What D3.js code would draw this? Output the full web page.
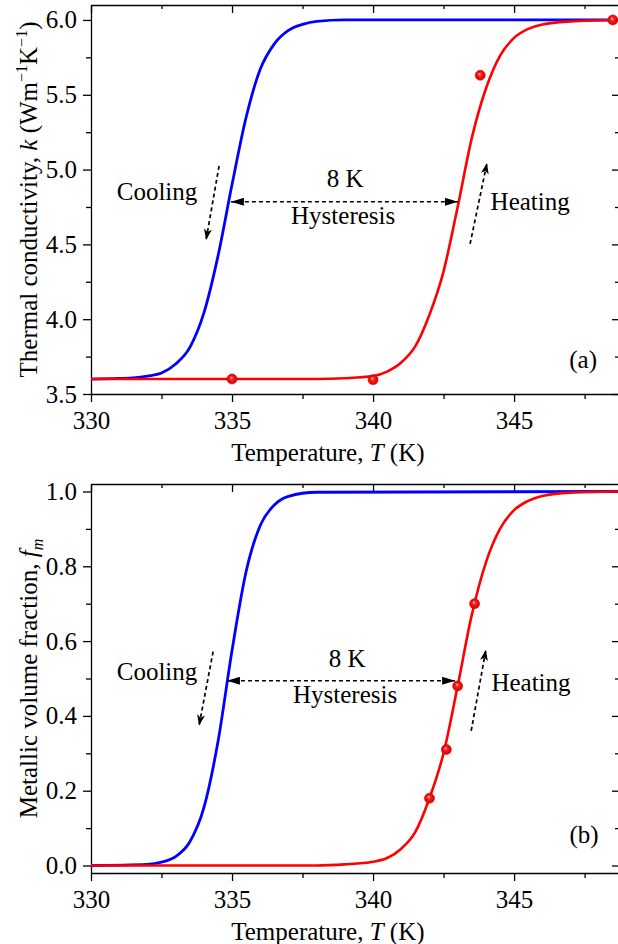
<!DOCTYPE html>
<html>
<head>
<meta charset="utf-8">
<script src="https://cdn.jsdelivr.net/npm/d3@7"></script>
<style>
  body { margin: 0; background: #fff; }
  svg { display: block; }
</style>
</head>
<body>
<svg id="chart" width="618" height="944"></svg>
<script>
const FONT = '"Liberation Serif", "Times New Roman", serif';

// temperature axis
const xMajor = [330, 335, 340, 345];
const xMinor = [332.5, 337.5, 342.5, 347.5];

// panel (a) thermal conductivity k
const kMajor = [3.5, 4.0, 4.5, 5.0, 5.5, 6.0];
const kMinor = [3.75, 4.25, 4.75, 5.25, 5.75];
const heatTa = [330, 338, 339, 340, 340.5, 341, 341.5, 342, 342.5, 343, 343.5, 344, 344.5, 345, 345.5, 346, 347, 348.72];
const heatK  = [3.60, 3.60, 3.605, 3.62, 3.65, 3.71, 3.82, 4.03, 4.32, 4.75, 5.21, 5.54, 5.76, 5.88, 5.94, 5.97, 5.99, 6.00];
const coolTa = [330, 331, 331.5, 332, 332.5, 333, 333.5, 334, 334.5, 335, 335.5, 336, 336.5, 337, 337.5, 338, 339, 348.72];
const coolK  = [3.60, 3.604, 3.608, 3.62, 3.64, 3.70, 3.81, 4.04, 4.42, 4.90, 5.35, 5.67, 5.84, 5.93, 5.97, 5.99, 6.00, 6.00];
const dotTa = [335, 340, 343.8, 348.5];
const dotK  = [3.60, 3.595, 5.63, 6.00];

// panel (b) metallic volume fraction f_m
const fMajor = [0, 0.2, 0.4, 0.6, 0.8, 1.0];
const fMinor = [0.1, 0.3, 0.5, 0.7, 0.9];
const heatTb = [330, 338, 339, 340, 340.5, 341, 341.5, 342, 342.5, 343, 343.5, 344, 344.5, 345, 345.5, 346, 347, 348.72];
const heatF  = [0, 0, 0.003, 0.01, 0.02, 0.045, 0.09, 0.18, 0.30, 0.48, 0.67, 0.81, 0.90, 0.95, 0.975, 0.988, 0.997, 1];
const coolTb = [330, 332, 332.5, 333, 333.5, 334, 334.5, 335, 335.5, 336, 336.5, 337, 338, 348.72];
const coolF  = [0, 0.003, 0.009, 0.024, 0.063, 0.154, 0.33, 0.575, 0.786, 0.909, 0.964, 0.987, 0.998, 1];
const dotTb = [342, 342.6, 343, 343.6];
const dotF  = [0.18, 0.31, 0.48, 0.70];

const svg = d3.select("#chart");
svg.append("rect").attr("width", 618).attr("height", 944).attr("fill", "#fff");

// markers + sphere gradient
const defs = svg.append("defs");
defs.append("marker")
  .attr("id", "tri").attr("markerUnits", "userSpaceOnUse")
  .attr("viewBox", "0 0 13 8").attr("refX", 13).attr("refY", 4)
  .attr("markerWidth", 13).attr("markerHeight", 8)
  .attr("orient", "auto-start-reverse")
  .append("path").attr("d", "M0,0 L13,4 L0,8 Z").attr("fill", "#000");
defs.append("marker")
  .attr("id", "head").attr("markerUnits", "userSpaceOnUse")
  .attr("viewBox", "0 0 11 8").attr("refX", 11).attr("refY", 4)
  .attr("markerWidth", 11).attr("markerHeight", 8)
  .attr("orient", "auto")
  .append("path").attr("d", "M0,0 L11,4 L0,8 L3,4 Z").attr("fill", "#000");
const grad = defs.append("radialGradient").attr("id", "ball")
  .attr("cx", "50%").attr("cy", "50%").attr("r", "50%")
  .attr("fx", "42%").attr("fy", "35%");
grad.append("stop").attr("offset", "0%").attr("stop-color", "#ffd0d0");
grad.append("stop").attr("offset", "35%").attr("stop-color", "#ff2020");
grad.append("stop").attr("offset", "100%").attr("stop-color", "#d00000");

const x = d3.scaleLinear().domain([330, 348.72]).range([91, 619]);

function drawPanel(p) {
  const y = d3.scaleLinear().domain(p.yDomain).range([p.bottom, p.top]);
  const g = svg.append("g");

  const styleAxis = sel => {
    sel.attr("font-family", FONT).attr("font-size", 25);
    sel.selectAll("path, line").attr("stroke", "#000").attr("stroke-width", 1.3);
    sel.selectAll("text").attr("fill", "#000");
  };

  // bottom axis, outward ticks
  g.append("g").attr("transform", `translate(0,${p.bottom})`)
    .call(d3.axisBottom(x).tickValues(xMajor).tickSize(8).tickSizeOuter(0).tickPadding(9).tickFormat(d3.format("d")))
    .call(styleAxis);
  g.append("g").attr("transform", `translate(0,${p.bottom})`)
    .call(d3.axisBottom(x).tickValues(xMinor).tickSize(5).tickFormat(""))
    .call(styleAxis).select(".domain").remove();
  // top frame, inward ticks
  g.append("g").attr("transform", `translate(0,${p.top})`)
    .call(d3.axisTop(x).tickValues(xMajor).tickSize(-8).tickSizeOuter(0).tickFormat(""))
    .call(styleAxis);
  g.append("g").attr("transform", `translate(0,${p.top})`)
    .call(d3.axisTop(x).tickValues(xMinor).tickSize(-4).tickFormat(""))
    .call(styleAxis).select(".domain").remove();
  // left axis
  g.append("g").attr("transform", "translate(91,0)")
    .call(d3.axisLeft(y).tickValues(p.yMajor).tickSize(8).tickSizeOuter(0).tickPadding(6).tickFormat(d3.format(".1f")))
    .call(styleAxis);
  g.append("g").attr("transform", "translate(91,0)")
    .call(d3.axisLeft(y).tickValues(p.yMinor).tickSize(5).tickFormat(""))
    .call(styleAxis).select(".domain").remove();
  // right frame, inward ticks
  g.append("g").attr("transform", "translate(619,0)")
    .call(d3.axisRight(y).tickValues(p.yMajor).tickSize(-7).tickSizeOuter(0).tickFormat(""))
    .call(styleAxis);
  g.append("g").attr("transform", "translate(619,0)")
    .call(d3.axisRight(y).tickValues(p.yMinor).tickSize(-4).tickFormat(""))
    .call(styleAxis).select(".domain").remove();

  // curves
  const line = d3.line().x(d => x(d[0])).y(d => y(d[1])).curve(d3.curveMonotoneX);
  g.append("path").datum(d3.zip(p.coolT, p.coolY))
    .attr("d", line).attr("fill", "none").attr("stroke", "#0000ff").attr("stroke-width", 2.8);
  g.append("path").datum(d3.zip(p.heatT, p.heatY))
    .attr("d", line).attr("fill", "none").attr("stroke", "#ff0000").attr("stroke-width", 2.6);

  // measured points
  g.selectAll("circle.pt").data(d3.zip(p.dotT, p.dotY)).join("circle")
    .attr("class", "pt")
    .attr("cx", d => x(d[0])).attr("cy", d => y(d[1])).attr("r", 5)
    .attr("fill", "url(#ball)").attr("stroke", "#e00000").attr("stroke-width", 0.6);

  // annotations
  const a = p.ann;
  const txt = (t, pos, anchor = "middle") => g.append("text")
    .attr("x", x(pos[0])).attr("y", y(pos[1]))
    .attr("text-anchor", anchor).attr("font-family", FONT).attr("font-size", 25)
    .attr("fill", "#000").text(t);
  const dashed = (p0, p1, start, end) => g.append("line")
    .attr("x1", x(p0[0])).attr("y1", y(p0[1])).attr("x2", x(p1[0])).attr("y2", y(p1[1]))
    .attr("stroke", "#000").attr("stroke-width", 1.7).attr("stroke-dasharray", "4,3")
    .attr("marker-start", start).attr("marker-end", end);

  txt("Cooling", a.cool);
  txt("8 K", a.eightK);
  txt("Hysteresis", a.hyst);
  txt("Heating", a.heat);
  txt(p.tag, a.tag);
  dashed(a.hysFrom, a.hysTo, "url(#tri)", "url(#tri)");
  dashed(a.coolFrom, a.coolTo, null, "url(#head)");
  dashed(a.heatFrom, a.heatTo, null, "url(#head)");

  // x title
  const xt = g.append("text").attr("x", x(338.4)).attr("y", p.bottom + 67)
    .attr("text-anchor", "middle").attr("font-family", FONT).attr("font-size", 25).attr("fill", "#000");
  xt.append("tspan").text("Temperature, ");
  xt.append("tspan").attr("font-style", "italic").text("T");
  xt.append("tspan").text(" (K)");

  // y title
  const yt = g.append("text")
    .attr("transform", `translate(37,${(p.top + p.bottom) / 2}) rotate(-90)`)
    .attr("text-anchor", "middle").attr("font-family", FONT).attr("font-size", 25).attr("fill", "#000");
  p.yTitle(yt);
}

drawPanel({
  top: 5, bottom: 394, yDomain: [3.5, 6.1], yMajor: kMajor, yMinor: kMinor,
  heatT: heatTa, heatY: heatK, coolT: coolTa, coolY: coolK, dotT: dotTa, dotY: dotK,
  tag: "(a)",
  ann: {
    cool: [332.34, 4.797], eightK: [339.01, 4.884], hyst: [338.94, 4.636], heat: [345.57, 4.73],
    tag: [347.45, 3.674],
    hysFrom: [334.96, 4.785], hysTo: [343.01, 4.785],
    coolFrom: [334.54, 5.024], coolTo: [334.08, 4.53],
    heatFrom: [343.44, 4.503], heatTo: [344.04, 5.044]
  },
  yTitle: t => {
    t.append("tspan").text("Thermal conductivity, ");
    t.append("tspan").attr("font-style", "italic").text("k");
    t.append("tspan").text(" (Wm");
    t.append("tspan").attr("font-size", 16).attr("dy", -10).text("\u22121");
    t.append("tspan").attr("dy", 10).text("K");
    t.append("tspan").attr("font-size", 16).attr("dy", -10).text("\u22121");
    t.append("tspan").attr("dy", 10).text(")");
  }
});

drawPanel({
  top: 484, bottom: 873, yDomain: [-0.02, 1.02], yMajor: fMajor, yMinor: fMinor,
  heatT: heatTb, heatY: heatF, coolT: coolTb, coolY: coolF, dotT: dotTb, dotY: dotF,
  tag: "(b)",
  ann: {
    cool: [332.34, 0.496], eightK: [339.08, 0.531], hyst: [339.01, 0.4345], heat: [345.6, 0.4666],
    tag: [347.48, 0.0602],
    hysFrom: [334.82, 0.494], hysTo: [342.91, 0.494],
    coolFrom: [334.33, 0.572], coolTo: [333.83, 0.374],
    heatFrom: [343.48, 0.36], heatTo: [344.0, 0.577]
  },
  yTitle: t => {
    t.append("tspan").text("Metallic volume fraction, ");
    t.append("tspan").attr("font-style", "italic").text("f");
    t.append("tspan").attr("font-style", "italic").attr("font-size", 16).attr("dy", 6).text("m");
  }
});
</script>
</body>
</html>
